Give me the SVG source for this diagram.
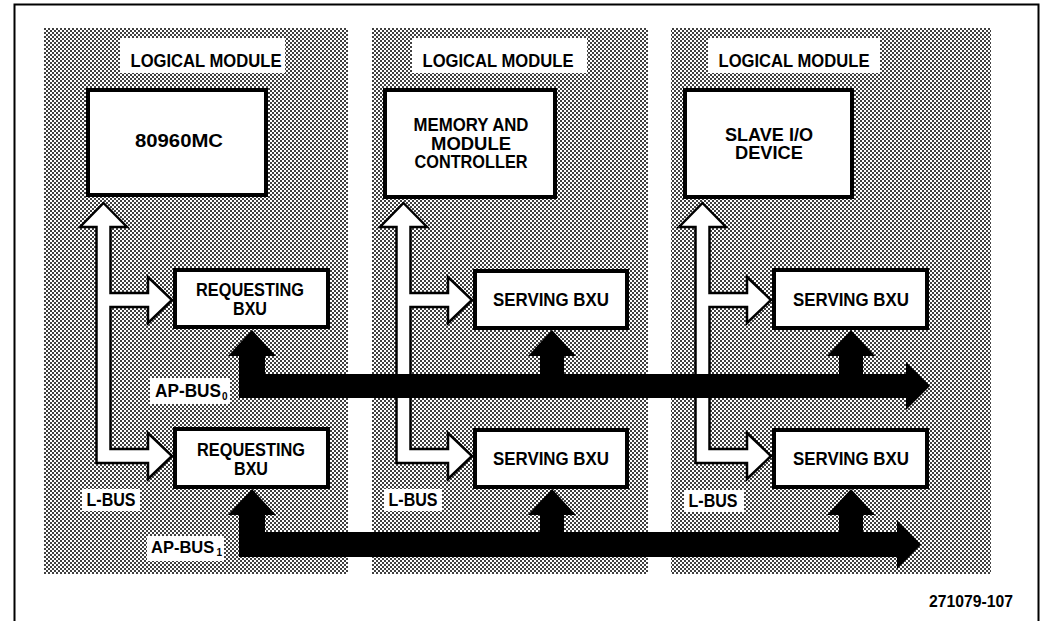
<svg xmlns="http://www.w3.org/2000/svg" width="1045" height="621" viewBox="0 0 1045 621">
<defs>
<pattern id="dots" patternUnits="userSpaceOnUse" width="4" height="4">
<rect width="4" height="4" fill="#fff"/>
<circle cx="1" cy="1" r="1" fill="#000"/>
<circle cx="3" cy="3" r="1" fill="#000"/>
</pattern>
<path id="lbus" d="M103.5 203 L127 227 L110.5 227 L110.5 293 L148 293 L148 277 L172 300 L148 323 L148 307 L110.5 307 L110.5 449 L148 449 L148 433 L172 456 L148 479 L148 463 L96.5 463 L96.5 227 L80 227 Z"/>
</defs>
<style>
.panel{fill:url(#dots);}
.lbl{fill:#fff;}
.box{fill:#fff;stroke:#000;stroke-width:4;}
.t{font-family:"Liberation Sans",Arial,Helvetica,sans-serif;font-weight:bold;font-size:18px;fill:#000;}
.c{text-anchor:middle;}
.sub{font-size:10px;}
.ap1{font-size:16.5px;}
.num{font-size:16px;}
.wa{fill:#fff;stroke:#000;stroke-width:2.5;stroke-linejoin:miter;}
.ba{fill:#000;}
</style>
<rect x="0" y="0" width="1045" height="621" fill="#fff"/>
<rect x="14.5" y="4.5" width="1024" height="640" fill="none" stroke="#000" stroke-width="2"/>

<g id="panels">
<rect class="panel" x="44" y="28" width="304" height="546"/>
<rect class="panel" x="372" y="28" width="276" height="546"/>
<rect class="panel" x="671" y="28" width="320" height="546"/>
</g>

<g id="module-labels">
<rect class="lbl" x="120" y="38" width="165" height="35"/>
<text class="t c" x="206" y="67" textLength="151" lengthAdjust="spacingAndGlyphs">LOGICAL MODULE</text>
<rect class="lbl" x="412" y="38" width="175" height="35"/>
<text class="t c" x="498" y="67" textLength="151" lengthAdjust="spacingAndGlyphs">LOGICAL MODULE</text>
<rect class="lbl" x="708" y="38" width="172" height="35"/>
<text class="t c" x="794" y="67" textLength="151" lengthAdjust="spacingAndGlyphs">LOGICAL MODULE</text>
</g>

<g id="connectors">
<use href="#lbus" class="wa"/>
<use href="#lbus" class="wa" transform="translate(300,0)"/>
<use href="#lbus" class="wa" transform="translate(599,0)"/>
<path class="ba" d="M252 330 L276 356 L265 356 L265 374 L540 374 L540 356 L528 356 L552 330 L576 356 L564 356 L564 374 L839 374 L839 356 L827 356 L851 330 L875 356 L863 356 L863 374 L906 374 L906 362 L930 386 L906 410 L906 398 L239 398 L239 356 L228 356 Z"/>
<path class="ba" d="M252 489 L276 515 L265 515 L265 532 L540 532 L540 515 L528 515 L552 489 L576 515 L564 515 L564 532 L839 532 L839 515 L827 515 L851 489 L875 515 L863 515 L863 532 L897 532 L897 520 L921 544.5 L897 569 L897 557 L239 557 L239 515 L228 515 Z"/>
</g>

<g id="node-80960mc">
<rect class="box" x="88" y="90" width="178" height="105"/>
<text class="t c" x="179" y="147" textLength="88" lengthAdjust="spacingAndGlyphs">80960MC</text>
</g>
<g id="node-memory">
<rect class="box" x="385" y="90" width="170" height="107"/>
<text class="t c" x="471" y="131" textLength="115" lengthAdjust="spacingAndGlyphs">MEMORY AND</text>
<text class="t c" x="471" y="149.5" textLength="80" lengthAdjust="spacingAndGlyphs">MODULE</text>
<text class="t c" x="471" y="168" textLength="113" lengthAdjust="spacingAndGlyphs">CONTROLLER</text>
</g>
<g id="node-slave">
<rect class="box" x="685" y="90" width="167" height="107"/>
<text class="t c" x="769" y="141" textLength="88" lengthAdjust="spacingAndGlyphs">SLAVE I/O</text>
<text class="t c" x="769" y="159" textLength="68" lengthAdjust="spacingAndGlyphs">DEVICE</text>
</g>
<g id="node-req0">
<rect class="box" x="175" y="270" width="153" height="57"/>
<text class="t c" x="250" y="296" textLength="108" lengthAdjust="spacingAndGlyphs">REQUESTING</text>
<text class="t c" x="250" y="315" textLength="34" lengthAdjust="spacingAndGlyphs">BXU</text>
</g>
<g id="node-req1">
<rect class="box" x="175" y="429" width="153" height="58"/>
<text class="t c" x="251" y="456" textLength="108" lengthAdjust="spacingAndGlyphs">REQUESTING</text>
<text class="t c" x="251" y="475" textLength="34" lengthAdjust="spacingAndGlyphs">BXU</text>
</g>
<g id="node-serve-mem0">
<rect class="box" x="475" y="271" width="152" height="57"/>
<text class="t c" x="551" y="306" textLength="116" lengthAdjust="spacingAndGlyphs">SERVING BXU</text>
</g>
<g id="node-serve-mem1">
<rect class="box" x="475" y="430" width="152" height="57"/>
<text class="t c" x="551" y="465" textLength="116" lengthAdjust="spacingAndGlyphs">SERVING BXU</text>
</g>
<g id="node-serve-io0">
<rect class="box" x="774" y="270" width="153" height="58"/>
<text class="t c" x="851" y="306" textLength="116" lengthAdjust="spacingAndGlyphs">SERVING BXU</text>
</g>
<g id="node-serve-io1">
<rect class="box" x="774" y="430" width="153" height="57"/>
<text class="t c" x="851" y="465" textLength="116" lengthAdjust="spacingAndGlyphs">SERVING BXU</text>
</g>

<g id="bus-labels">
<rect class="lbl" x="150" y="378" width="80" height="26"/>
<text class="t" x="155" y="397" textLength="66" lengthAdjust="spacingAndGlyphs">AP-BUS</text>
<text class="t sub" x="222" y="400">0</text>
<rect class="lbl" x="147" y="536" width="77" height="25"/>
<text class="t ap1" x="151" y="553">AP-BUS</text>
<text class="t sub" x="216.5" y="556">1</text>
<rect class="lbl" x="82" y="489" width="58" height="22"/>
<text class="t c" x="111" y="506" textLength="49" lengthAdjust="spacingAndGlyphs">L-BUS</text>
<rect class="lbl" x="384" y="489" width="58" height="22"/>
<text class="t c" x="413" y="506" textLength="49" lengthAdjust="spacingAndGlyphs">L-BUS</text>
<rect class="lbl" x="684" y="490" width="60" height="22"/>
<text class="t c" x="713" y="507" textLength="49" lengthAdjust="spacingAndGlyphs">L-BUS</text>
</g>

<text class="t num" x="1013" y="607" text-anchor="end" textLength="84" lengthAdjust="spacingAndGlyphs">271079-107</text>
</svg>
